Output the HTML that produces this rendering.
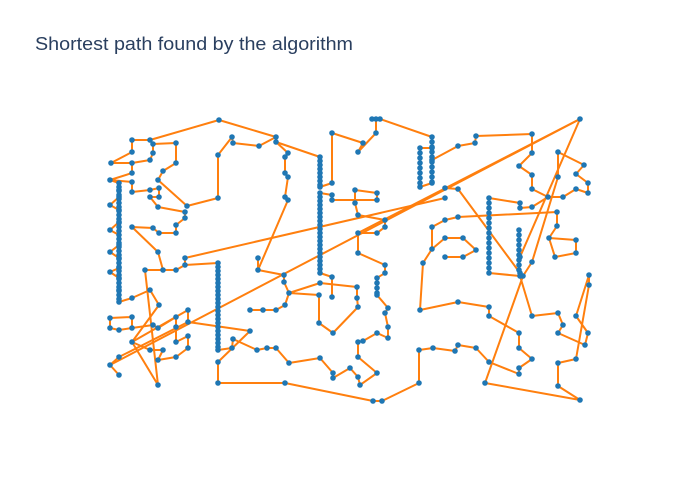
<!DOCTYPE html>
<html><head><meta charset="utf-8"><style>
body{margin:0;background:#fff;}
svg{display:block}
</style></head><body>
<svg id="s" width="700" height="500" xmlns="http://www.w3.org/2000/svg">
<rect width="700" height="500" fill="#fff"/>
<text x="35" y="50" font-family="Liberation Sans, sans-serif" font-size="18" fill="#2a3f5f" textLength="318" lengthAdjust="spacingAndGlyphs">Shortest path found by the algorithm</text>
<g id="L" fill="none" stroke="#ff7f0e" stroke-width="2" stroke-linejoin="round"></g>
<g id="D" fill="#1f77b4"></g>
</svg>
<script>
var P=[
[111,163,132,152,132,140,150,140,219,120,276,137,276,142,320,157,320,187,332,183,332,133,363,143,358,152],
[276,137,259,146,233,143,232,137,218,155,218,198,187,206,158,180,163,171,176,163,176,143,153,144,153,153,150,160,132,163,111,163],
[132,163,132,173,110,180,132,182,132,192,150,190,159,188,159,197,150,197,158,207,185,212,185,218,176,225,176,233,159,233,153,228,132,227,158,252,163,270,176,270,185,265,185,258,445,198],
[110,180,119,183,119,190,119,197,110,205,119,210,119,222,110,230,119,235,119,245,110,252,119,258,119,268,110,272,119,278,119,290,119,302,132,298,150,290,159,305,132,342],
[145,270,163,270],[145,270,158,385,132,342,188,310,188,322,250,331,218,362,218,383,285,383,373,401,382,401,419,383,419,350,433,348,455,351,458,345,476,348,489,362,519,374,519,368,532,359,519,348,519,333,489,316,489,307,458,302,420,310,423,263,432,249,445,238,463,238,476,250,463,257,445,257],
[432,249,432,227,445,220,458,217,557,212,557,226,549,238,555,257,576,253,576,240,549,238],
[185,265,218,263,218,350,232,348,233,339,257,350,267,348,276,348,289,363,320,358,333,373,333,378,350,368,358,377,360,385,377,373,358,357,358,342,363,341,377,333,388,338,388,327,385,313,388,308,377,295,377,278,385,273,385,265,358,253,358,233,377,233,385,227,385,220,358,215,355,203,355,190,377,193,377,200,332,200,332,195,320,193,320,273,332,277,332,297],
[580,119,110,365],[580,119,358,233],
[110,365,119,357,188,322],[110,365,119,375],
[288,200,285,197,288,177,285,173,285,157,288,153,276,142],
[288,200,258,270,258,258],[258,270,284,275,284,282,289,293,320,283,357,287,357,298,358,307,333,333,319,323,319,295,289,293],
[289,293,285,305,276,310,263,310,250,310],
[358,152,376,133,376,119,372,119,380,119,432,137,432,148,420,148,420,187,432,183,432,172,432,160,458,146,475,143,476,136,532,134,532,153,519,166,532,175,532,189,548,197,563,197,576,189,588,193,588,183,576,174,584,165,558,152,558,177,532,262,523,276,485,383,580,400,558,386,558,363,576,359,589,285,589,275,576,316,588,333,585,345,558,333,563,325,558,313,532,316,520,276,489,273,489,198,520,203,520,208,532,207,548,197],
[445,188,458,189,520,273],[580,119,520,257,519,230],
[110,318,132,317,132,328,119,330,110,328,110,318],[132,328,153,325,158,328,176,317,176,327,176,342,188,336,188,348,176,357,158,360,163,350,150,350,132,342]
];
var L=document.getElementById('L'),D=document.getElementById('D'),ns='http://www.w3.org/2000/svg',seen={};
function dot(x,y){var k=x+','+y;if(seen[k])return;seen[k]=1;var c=document.createElementNS(ns,'circle');c.setAttribute('cx',x);c.setAttribute('cy',y);c.setAttribute('r',2.8);D.appendChild(c);}
P.forEach(function(a){var p=document.createElementNS(ns,'polyline');p.setAttribute('points',a.join(' '));L.appendChild(p);for(var i=0;i<a.length;i+=2)dot(a[i],a[i+1]);});
function col(x,y0,y1,st){for(var y=y0;y<=y1;y+=st)dot(x,y);}
col(119,183,302,4);col(218,263,350,4);col(320,157,187,4);col(320,193,273,4);col(432,137,183,5);col(420,148,187,5);col(489,198,273,5);col(519,230,273,5);col(377,278,295,5);
</script>
</body></html>
